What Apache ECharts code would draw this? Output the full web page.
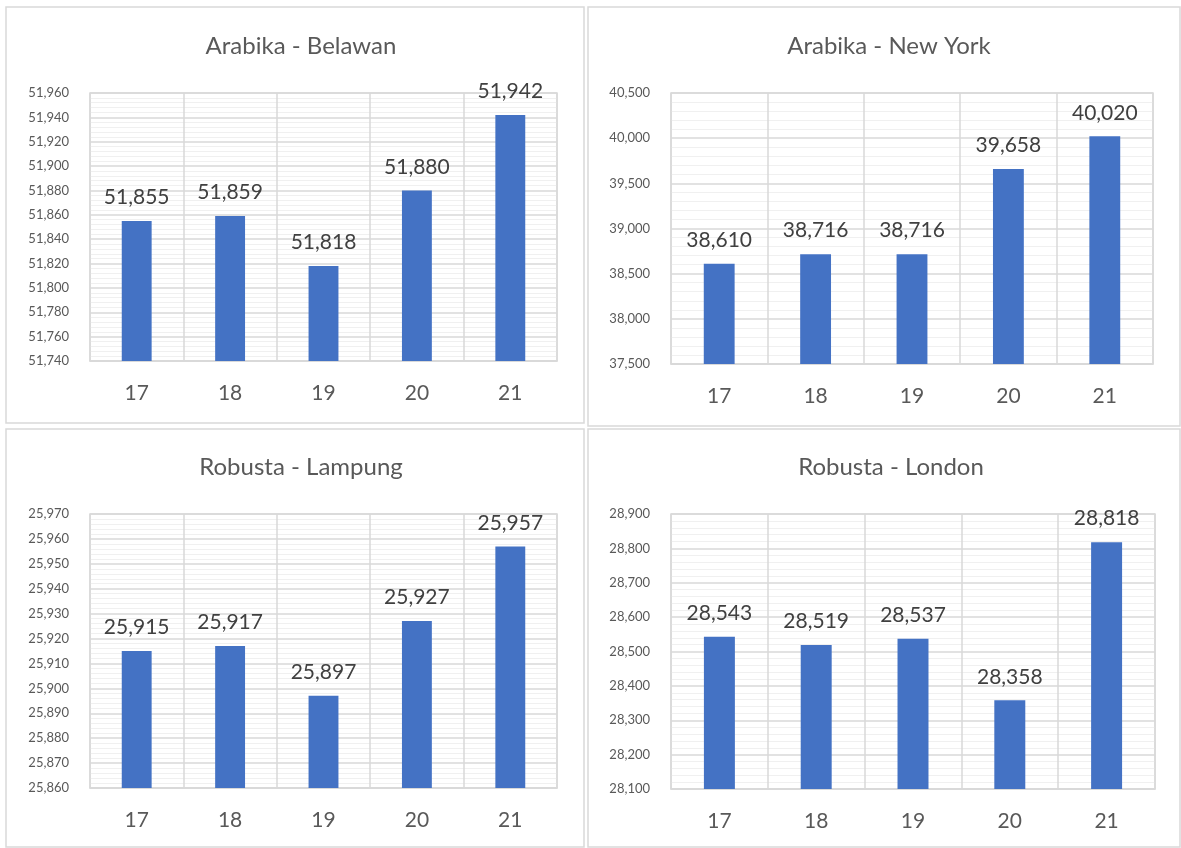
<!DOCTYPE html>
<html>
<head>
<meta charset="utf-8">
<script src="https://cdn.jsdelivr.net/npm/echarts@6/dist/echarts.min.js"></script>
<style>
html,body{margin:0;padding:0;background:#fff;}
#c{width:1181px;height:848px;}
</style>
</head>
<body>
<div id="c"></div>
<script>
var categories = ['17', '18', '19', '20', '21'];

var titles = ['Arabika - Belawan', 'Arabika - New York', 'Robusta - Lampung', 'Robusta - London'];

var belawan = [51855, 51859, 51818, 51880, 51942];
var newYork = [38610, 38716, 38716, 39658, 40020];
var lampung = [25915, 25917, 25897, 25927, 25957];
var london = [28543, 28519, 28537, 28358, 28818];

var yMin = [51740, 37500, 25860, 28100];
var yMax = [51960, 40500, 25970, 28900];
var yStep = [20, 500, 10, 100];

var seriesData = [belawan, newYork, lampung, london];

var FONT = 'Lato, "Noto Sans", sans-serif';
var grids = [
  {left: 90, top: 93, width: 467, height: 268},
  {left: 671, top: 93, width: 482, height: 271},
  {left: 90, top: 514, width: 467, height: 274},
  {left: 671, top: 514, width: 484, height: 275}
];
var titlePos = [{x: 296, y: 29}, {x: 884, y: 29}, {x: 296, y: 450}, {x: 886, y: 450}];
var panels = [
  {x: 6, y: 7, w: 578, h: 416},
  {x: 588, y: 7, w: 592, h: 419},
  {x: 6, y: 429, w: 578, h: 418},
  {x: 588, y: 429, w: 592, h: 418}
];

function fmt(v) { return Number(v).toLocaleString('en-US'); }

var option = {
  backgroundColor: '#fff',
  animation: false,
  title: titles.map(function (t, i) {
    return {
      text: t, left: titlePos[i].x, top: titlePos[i].y, textAlign: 'center',
      textStyle: {fontFamily: FONT, fontSize: 24, fontWeight: 'normal', color: '#595959'}
    };
  }),
  graphic: panels.map(function (p) {
    return {type: 'rect', shape: {x: p.x, y: p.y, width: p.w, height: p.h},
      style: {fill: null, stroke: '#d9d9d9', lineWidth: 1.5}, z: -1};
  }),
  grid: grids.map(function (g) {
    return {left: g.left, top: g.top, width: g.width, height: g.height, show: true,
      borderColor: '#d9d9d9', borderWidth: 1.5, containLabel: false};
  }),
  xAxis: grids.map(function (g, i) {
    return {
      type: 'category', gridIndex: i, data: categories,
      axisLine: {show: true, lineStyle: {color: '#d9d9d9', width: 1.5}},
      axisTick: {show: false},
      axisLabel: {fontFamily: FONT, fontSize: 21, color: '#595959', margin: 22},
      splitLine: {show: true, lineStyle: {color: '#d9d9d9', width: 1.5}}
    };
  }),
  yAxis: grids.map(function (g, i) {
    return {
      type: 'value', gridIndex: i, min: yMin[i], max: yMax[i], interval: yStep[i],
      axisLine: {show: false}, axisTick: {show: false},
      axisLabel: {fontFamily: FONT, fontSize: 13, color: '#595959', margin: 21,
        formatter: function (v) { return fmt(v); }},
      splitLine: {show: true, lineStyle: {color: '#d9d9d9', width: 1.5}},
      minorTick: {show: false, splitNumber: 5},
      minorSplitLine: {show: true, lineStyle: {color: '#f0f0f0', width: 1}}
    };
  }),
  series: seriesData.map(function (d, i) {
    return {
      type: 'bar', xAxisIndex: i, yAxisIndex: i, data: d, barWidth: '32%',
      itemStyle: {color: '#4472C4'},
      label: {show: true, position: 'top', distance: 13, fontFamily: FONT, fontSize: 21,
        color: '#404040', formatter: function (p) { return fmt(p.value); }}
    };
  })
};

var chart = echarts.init(document.getElementById('c'), null, {renderer: 'canvas'});
chart.setOption(option);
</script>
</body>
</html>
